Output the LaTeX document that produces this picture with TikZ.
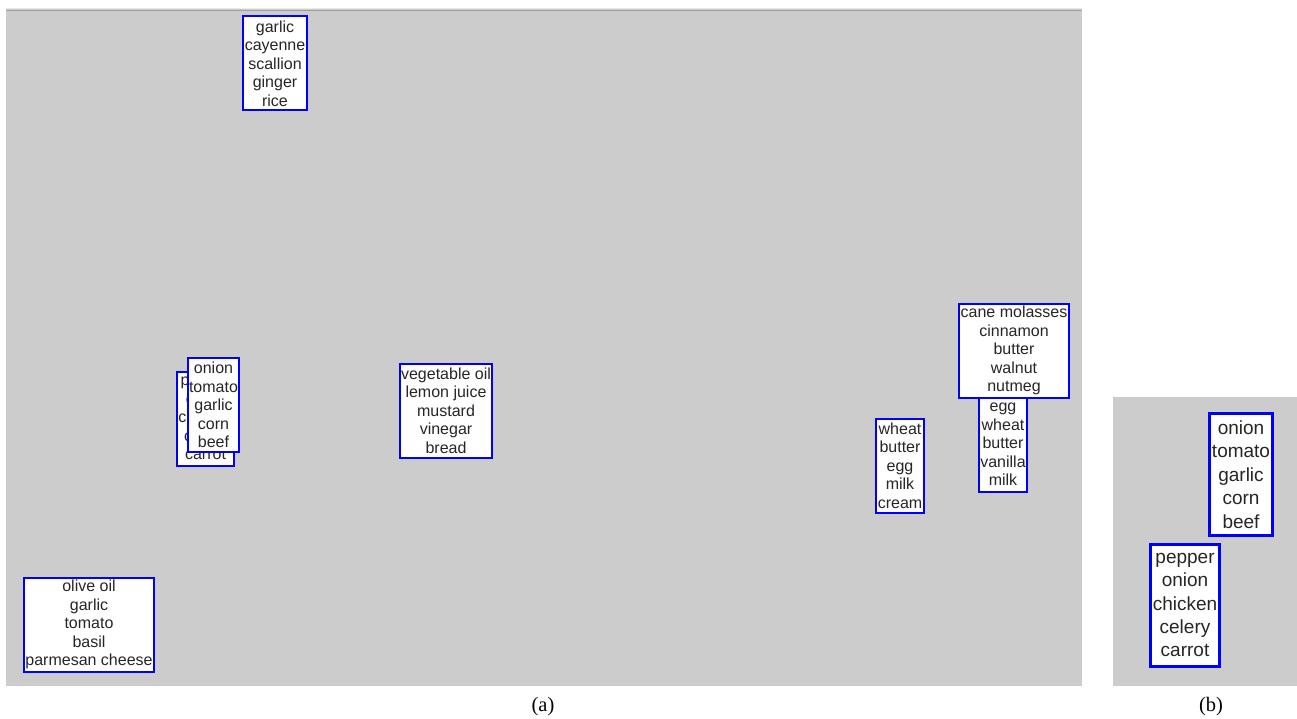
\documentclass[tikz,border=0pt]{standalone}
\usepackage{fontspec}
\setmainfont{Liberation Serif}
\newfontfamily\arial{Liberation Sans}
\usetikzlibrary{positioning}
\definecolor{panelgray}{HTML}{CCCCCC}
\definecolor{edgegray}{HTML}{A0A0A0}
\tikzset{
  ingr/.style={draw=blue,line width=2pt,fill=white,align=center,inner xsep=1.5pt,inner ysep=1pt,
    minimum height=94pt,font=\arial\fontsize{16}{18.5}\selectfont,text=black!85},
  ingrbig/.style={ingr,line width=3pt,minimum height=122pt,inner xsep=2pt,
    font=\arial\fontsize{19}{23.4}\selectfont},
  caption/.style={font=\fontsize{20.5}{22}\selectfont}
}
\begin{document}
\begin{tikzpicture}[x=1pt,y=-1pt]
        \useasboundingbox (0,0) rectangle (1297,719);
        \fill[white] (0,0) rectangle (1297,719);
        % panel (a)
        \fill[panelgray] (6,9) rectangle (1082,686);
        \draw[black!8,line width=1pt] (6,8.5) -- (1082,8.5);
        \draw[edgegray,line width=1.2pt] (6,10.5) -- (1082,10.5);
        \node[ingr] (garlicA) at (275,63.5) {garlic\\cayenne\\scallion\\ginger\\rice};
        \node[ingr] (pepperA) at (205.5,418.5) {pepper\\onion\\chicken\\celery\\carrot};
        \node[ingr] (onionA) at (213.5,405) {onion\\tomato\\garlic\\corn\\beef};
        \node[ingr] (vegoil) at (446,410.5) {vegetable oil\\lemon juice\\mustard\\vinegar\\bread};
        \node[ingr] (cane) at (1014,350.5) {cane molasses\\cinnamon\\butter\\walnut\\nutmeg};
        \node[ingr] (egg) at (1003,444.5) {egg\\wheat\\butter\\vanilla\\milk};
        \node[ingr] (wheat) at (900,465.5) {wheat\\butter\\egg\\milk\\cream};
        \node[ingr] (olive) at (89,624.5) {olive oil\\garlic\\tomato\\basil\\parmesan cheese};
        % panel (b)
        \fill[panelgray] (1113,397) rectangle (1297,686);
        \node[ingrbig] (onionB) at (1241,474.5) {onion\\tomato\\garlic\\corn\\beef};
        \node[ingrbig] (pepperB) at (1185,605) {pepper\\onion\\chicken\\celery\\carrot};
        % captions
        \node[caption] (capA) at (543,707) {(a)};
        \node[caption] (capB) at (1211,707) {(b)};
    \end{tikzpicture}
\end{document}
